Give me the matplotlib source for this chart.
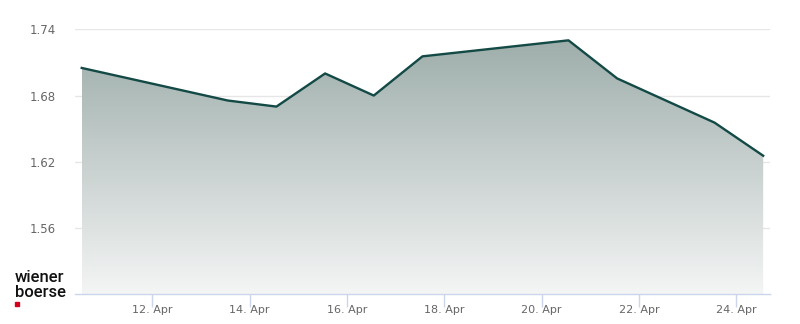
import numpy as np
import matplotlib
matplotlib.use('Agg')
import matplotlib.pyplot as plt
import matplotlib.dates as mdates
from matplotlib.colors import LinearSegmentedColormap
import datetime as dt

# data (trading days, April)
days = [10, 13, 14, 15, 16, 17, 20, 21, 23, 24]
prices = [1.705, 1.6755, 1.670, 1.700, 1.680, 1.7155, 1.730, 1.6955, 1.6555, 1.6255]
yticks = [1.56, 1.62, 1.68, 1.74]
xtick_days = [12, 14, 16, 18, 20, 22, 24]

base = dt.datetime(2023, 4, 1)
dates = [base + dt.timedelta(days=d - 1, hours=13, minutes=12) for d in days]
x = mdates.date2num(dates)
y = np.array(prices)

fig = plt.figure(figsize=(8, 3.24), dpi=100)
ax = fig.add_axes([75/800, (324-294.3)/324, 695/800, 265/324])

line_col = '#134a46'
ax.plot(x, y, color=line_col, lw=1.7, zorder=4, solid_joinstyle='round')

# gradient fill under the line
xlo = mdates.date2num(base + dt.timedelta(days=9, hours=9, minutes=53))
xhi = mdates.date2num(base + dt.timedelta(days=23, hours=16, minutes=34))
ylo, yhi = 1.50, 1.74
cmap = LinearSegmentedColormap.from_list('g', ['#f4f5f5', '#9eaeab'])
grad = np.linspace(0, 1, 256).reshape(-1, 1)
im = ax.imshow(grad, extent=[x[0], x[-1], ylo, y.max()], origin='lower',
               cmap=cmap, aspect='auto', zorder=2)
poly = ax.fill_between(x, y, ylo, color='none', lw=0)
path = poly.get_paths()[0]
im.set_clip_path(path, transform=ax.transData)

ax.set_xlim(xlo, xhi)
ax.set_ylim(ylo, yhi)

ax.set_yticks(yticks)
ax.set_yticklabels(['%.2f' % v for v in yticks])
ax.yaxis.grid(True, color='#e6e6e6', lw=1)
ax.set_axisbelow(True)
ax.tick_params(axis='y', length=0, labelsize=8.5, labelcolor='#666666', pad=14)

xt = [mdates.date2num(base + dt.timedelta(days=d - 1)) for d in xtick_days]
ax.set_xticks(xt)
ax.set_xticklabels(['%d. Apr' % d for d in xtick_days])
ax.tick_params(axis='x', length=9, color='#ccd6eb', width=1, labelsize=8,
               labelcolor='#666666', pad=-1)

for s in ['top', 'right', 'left']:
    ax.spines[s].set_visible(False)
ax.spines['bottom'].set_color('#ccd6eb')
ax.spines['bottom'].set_linewidth(1)

# logo
fig.text(15/800, 1 - 277/324, 'wiener', fontsize=12, family='Roboto',
         weight=500, color='#111111', va='center', ha='left')
fig.text(15/800, 1 - 292.5/324, 'boerse', fontsize=12, family='Roboto',
         weight=500, color='#111111', va='center', ha='left')
fig.patches.append(plt.Rectangle((15/800, 1 - 306/324), 4/800, 4/324,
                                 transform=fig.transFigure, color='#d5001c', figure=fig))

plt.savefig('out.png', dpi=100)
